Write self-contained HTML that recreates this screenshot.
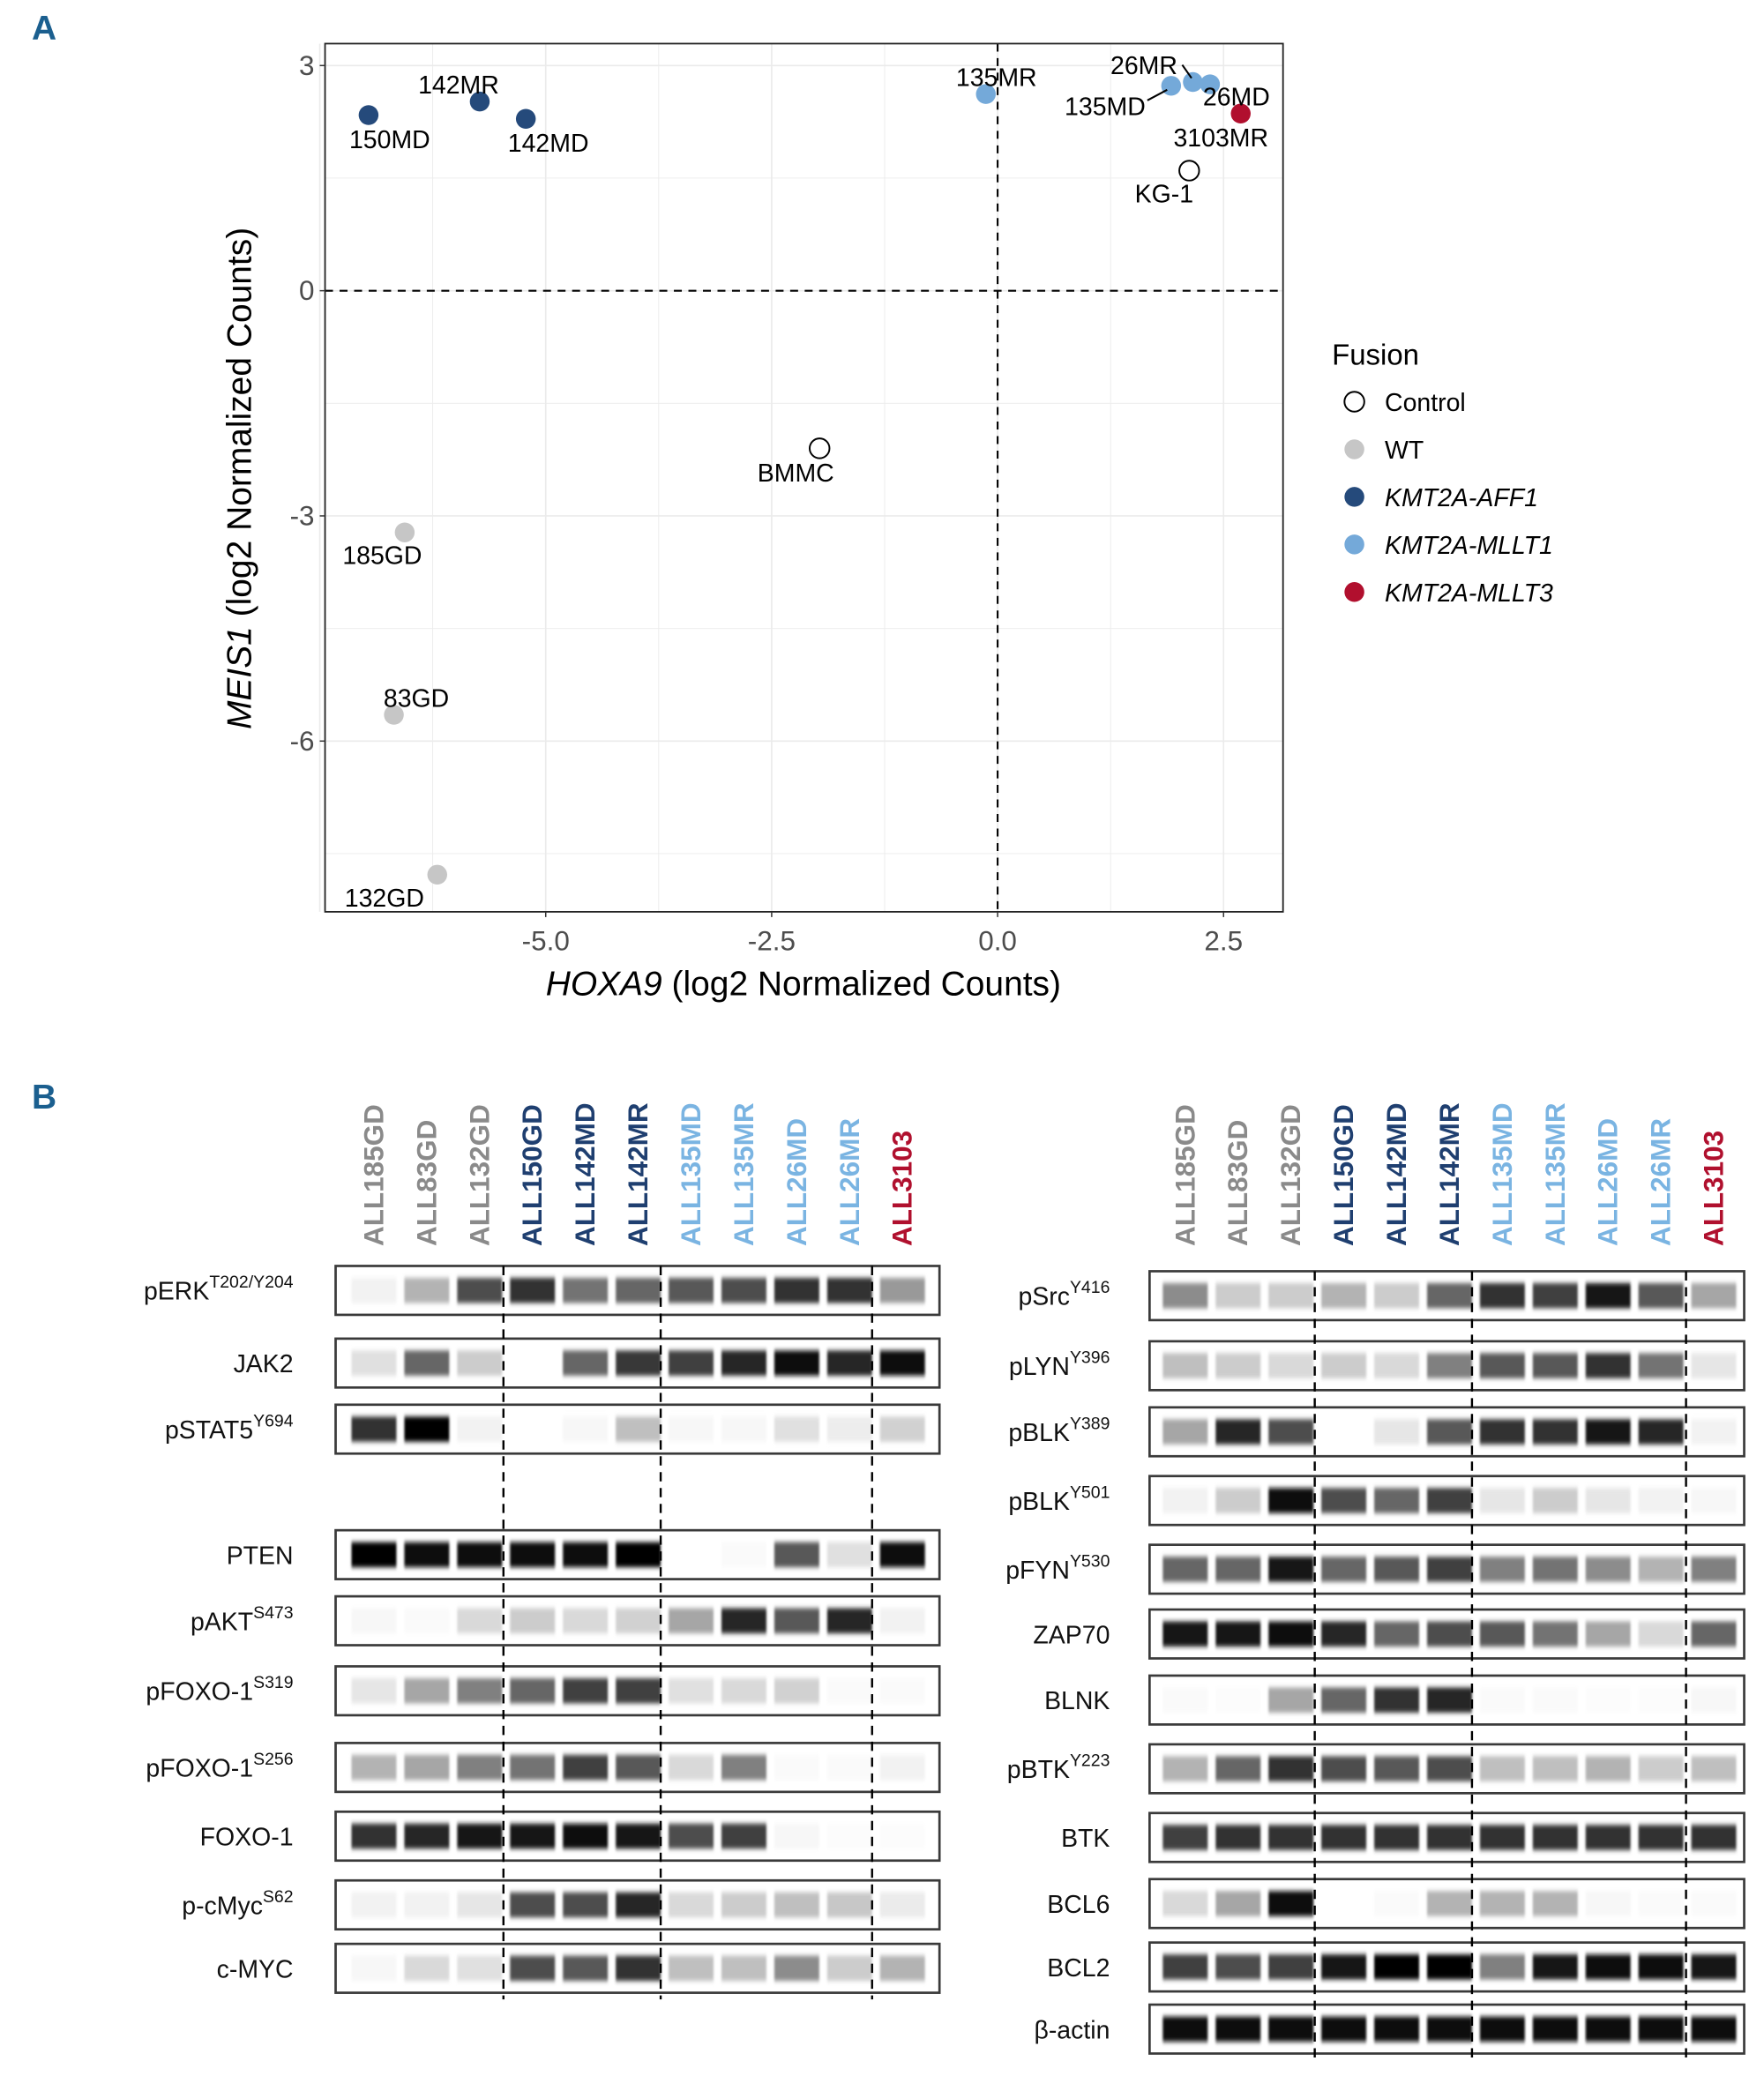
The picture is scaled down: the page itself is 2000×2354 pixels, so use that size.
<!DOCTYPE html>
<html><head><meta charset="utf-8"><style>
html,body{margin:0;padding:0;background:#fff;}
svg{display:block;font-family:"Liberation Sans",sans-serif;}
</style></head><body>
<svg id="fig" width="2000" height="2354" viewBox="0 0 1335 1571" preserveAspectRatio="none" xmlns="http://www.w3.org/2000/svg">
<defs><filter id="blur" x="-20%" y="-50%" width="140%" height="200%"><feGaussianBlur stdDeviation="0.9 1.8"/></filter></defs>
<text x="24" y="30" font-size="26" font-weight="bold" fill="#1b5f8f">A</text>
<text x="24" y="839" font-size="26" font-weight="bold" fill="#1b5f8f">B</text>
<g id="scatter"></g>
<g id="legend"></g>
<g id="blots"></g>
</svg>
<script>
// ---- Scatter data ----
const sampleNames = ["150MD","142MR","142MD","135MR","135MD","26MR","26MD","3103MR","KG-1","BMMC","185GD","83GD","132GD"];
const hoxa9 = [-6.96,-5.73,-5.22,-0.13,1.92,2.16,2.35,2.69,2.12,-1.97,-6.56,-6.68,-6.20];
const meis1 = [2.34,2.52,2.29,2.62,2.73,2.78,2.75,2.36,1.60,-2.10,-3.22,-5.65,-7.78];
const fusion = ["AFF1","AFF1","AFF1","MLLT1","MLLT1","MLLT1","MLLT1","MLLT3","Control","Control","WT","WT","WT"];
const xTicks = [-5.0,-2.5,0.0,2.5];
const yTicks = [3,0,-3,-6];
const legendLabels = ["Control","WT","KMT2A-AFF1","KMT2A-MLLT1","KMT2A-MLLT3"];
const legendKeys = ["Control","WT","AFF1","MLLT1","MLLT3"];

const NS="http://www.w3.org/2000/svg";
function mk(tag, attrs, parent){const e=document.createElementNS(NS,tag);for(const k in attrs)e.setAttribute(k,attrs[k]);if(parent)parent.appendChild(e);return e;}
const colors={Control:"#ffffff",WT:"#c6c6c6",AFF1:"#254a7b",MLLT1:"#74a9d9",MLLT3:"#b10f2e"};
const P={l:246,r:971,t:33,b:690};
const sx=v=>755+v*68.4;
const sy=v=>220-v*56.8;
const sc=document.getElementById('scatter');
mk('rect',{x:P.l,y:P.t,width:P.r-P.l,height:P.b-P.t,fill:'#fff'},sc);
for(let v=-7.5;v<=2.5;v+=1.25){const major=Math.abs((v/2.5)-Math.round(v/2.5))<1e-6;
 const g=mk('line',{x1:sx(v),x2:sx(v),y1:P.t,y2:P.b,stroke:'#ebebeb','stroke-width':major?1.1:0.6},sc);
 }
for(let v=-7.5;v<=4.5;v+=1.5){const major=Math.abs(v/3-Math.round(v/3))<1e-6;
 const y=sy(v);if(y<P.t||y>P.b)continue;
 const g=mk('line',{x1:P.l,x2:P.r,y1:y,y2:y,stroke:'#ebebeb','stroke-width':major?1.1:0.6},sc);
 }
let d=mk('line',{x1:sx(0),x2:sx(0),y1:P.t,y2:P.b,stroke:'#000','stroke-width':1.4,'stroke-dasharray':'6 5'},sc);

d=mk('line',{x1:P.l,x2:P.r,y1:sy(0),y2:sy(0),stroke:'#000','stroke-width':1.4,'stroke-dasharray':'6 5'},sc);

let fr=mk('rect',{x:P.l,y:P.t,width:P.r-P.l,height:P.b-P.t,fill:'none',stroke:'#222','stroke-width':1.2},sc);

xTicks.forEach(v=>{mk('line',{x1:sx(v),x2:sx(v),y1:P.b,y2:P.b+4,stroke:'#333'},sc);
 const t=mk('text',{x:sx(v),y:P.b+29,'text-anchor':'middle','font-size':21,fill:'#4d4d4d'},sc);t.textContent=v.toFixed(1);
 });
yTicks.forEach(v=>{mk('line',{x1:P.l-4,x2:P.l,y1:sy(v),y2:sy(v),stroke:'#333'},sc);
 const t=mk('text',{x:P.l-8,y:sy(v)+7,'text-anchor':'end','font-size':21,fill:'#4d4d4d'},sc);t.textContent=String(v);
 });
let xt=mk('text',{x:608,y:753,'text-anchor':'middle','font-size':26,fill:'#000'},sc);
xt.innerHTML='<tspan font-style="italic">HOXA9</tspan> (log2 Normalized Counts)';

let yt=mk('text',{x:0,y:0,'text-anchor':'middle','font-size':26,fill:'#000',transform:'translate(190,362) rotate(-90)'},sc);
yt.innerHTML='<tspan font-style="italic">MEIS1</tspan>  (log2 Normalized Counts)';

const lblDX=[16,-16,17,8,-50,-37,20,-15,-19,-18,-17,17,-40];
const lblDY=[19,-12,19,-12,16,-12,10,19,18,19,18,-12,18];
hoxa9.forEach((hx,i)=>{
 const cx=sx(hx),cy=sy(meis1[i]);
 const c=mk('circle',{cx:cx,cy:cy,r:7.5,fill:colors[fusion[i]],stroke:fusion[i]==='Control'?'#000':'none','stroke-width':1.3},sc);
 
 
});
hoxa9.forEach((hx,i)=>{
 const cx=sx(hx),cy=sy(meis1[i]);
 const t=mk('text',{x:cx+lblDX[i],y:cy+lblDY[i]+6,'text-anchor':'middle','font-size':19,fill:'#000'},sc);
 t.textContent=sampleNames[i];
 
 
});
mk('line',{x1:sx(1.92)-3,y1:sy(2.73)+3,x2:sx(1.92)-18,y2:sy(2.73)+11,stroke:'#000','stroke-width':1.4},sc);
mk('line',{x1:sx(2.16)-1,y1:sy(2.78)-3,x2:sx(2.16)-8,y2:sy(2.78)-13,stroke:'#000','stroke-width':1.4},sc);
const lg=document.getElementById('legend');
let lt=mk('text',{x:1008,y:276,'font-size':22,fill:'#000'},lg);lt.textContent='Fusion';

legendLabels.forEach((lab,i)=>{
 const y=304+i*36;
 const g=mk('g',{},lg);
 
 
 mk('circle',{cx:1025,cy:y,r:7.5,fill:colors[legendKeys[i]],stroke:legendKeys[i]==='Control'?'#000':'none','stroke-width':1.3},g);
 const t=mk('text',{x:1048,y:y+7,'font-size':19,fill:'#000','font-style':i>=2?'italic':'normal'},g);t.textContent=lab;
});

// ---- Blot data ----
const laneLabels=["ALL185GD","ALL83GD","ALL132GD","ALL150GD","ALL142MD","ALL142MR","ALL135MD","ALL135MR","ALL26MD","ALL26MR","ALL3103"];
const laneGroup=["WT","WT","WT","AFF1","AFF1","AFF1","MLLT1","MLLT1","MLLT1","MLLT1","MLLT3"];
const leftRows=["pERK|T202/Y204","JAK2|","pSTAT5|Y694","PTEN|","pAKT|S473","pFOXO-1|S319","pFOXO-1|S256","FOXO-1|","p-cMyc|S62","c-MYC|"];
const leftVals=[
[0.05,0.3,0.7,0.8,0.55,0.6,0.65,0.7,0.8,0.8,0.4],
[0.12,0.6,0.2,0,0.6,0.78,0.75,0.85,0.95,0.85,0.95],
[0.8,1,0.05,0,0.03,0.25,0.03,0.03,0.12,0.07,0.18],
[1,0.95,0.95,0.95,0.95,1,0,0.02,0.65,0.12,0.95],
[0.03,0.02,0.15,0.2,0.15,0.18,0.35,0.85,0.65,0.85,0.05],
[0.1,0.35,0.5,0.6,0.75,0.75,0.12,0.15,0.18,0.02,0.02],
[0.3,0.35,0.5,0.55,0.75,0.65,0.15,0.5,0.02,0.02,0.05],
[0.8,0.85,0.9,0.9,0.95,0.9,0.7,0.75,0.03,0.01,0.01],
[0.05,0.05,0.1,0.7,0.7,0.85,0.15,0.2,0.25,0.22,0.08],
[0.03,0.15,0.12,0.7,0.65,0.8,0.25,0.25,0.45,0.2,0.3]];
const rightRows=["pSrc|Y416","pLYN|Y396","pBLK|Y389","pBLK|Y501","pFYN|Y530","ZAP70|","BLNK|","pBTK|Y223","BTK|","BCL6|","BCL2|","β-actin|"];
const rightVals=[
[0.45,0.2,0.2,0.3,0.2,0.6,0.8,0.75,0.9,0.65,0.35],
[0.25,0.2,0.15,0.2,0.15,0.5,0.65,0.65,0.8,0.55,0.1],
[0.35,0.85,0.7,0,0.1,0.65,0.8,0.8,0.9,0.85,0.05],
[0.05,0.2,0.95,0.7,0.6,0.75,0.1,0.2,0.1,0.05,0.03],
[0.6,0.6,0.9,0.6,0.65,0.75,0.5,0.55,0.45,0.3,0.5],
[0.9,0.9,0.95,0.85,0.6,0.7,0.65,0.55,0.35,0.15,0.6],
[0.02,0.01,0.35,0.6,0.8,0.85,0.02,0.02,0.01,0.01,0.03],
[0.3,0.6,0.8,0.7,0.65,0.7,0.25,0.25,0.3,0.2,0.25],
[0.75,0.8,0.8,0.8,0.8,0.8,0.8,0.8,0.8,0.8,0.8],
[0.15,0.35,0.95,0,0.02,0.3,0.3,0.3,0.03,0.02,0.02],
[0.75,0.7,0.75,0.9,1,1,0.5,0.9,0.95,0.95,0.9],
[0.95,0.95,0.95,0.95,0.95,0.95,0.95,0.95,0.95,0.95,0.95]];
const laneColors={WT:"#8a8a8a",AFF1:"#1f3f70",MLLT1:"#7ab4e2",MLLT3:"#b0102e"};
const leftTops=[958,1013,1063,1158,1208,1261,1319,1371,1423,1471];
const rightTops=[962,1015,1065,1117,1169,1218,1268,1320,1372,1422,1470,1517];
const bl=document.getElementById('blots');
function panel(x0,x1,lane0,tops,rows,vals,dashX,labelX,name){
 const g=mk('g',{},bl);
 
 
 laneLabels.forEach((lab,i)=>{
  const cx=lane0+i*40;
  const t=mk('text',{x:0,y:0,'font-size':21,'font-weight':'bold',fill:laneColors[laneGroup[i]],transform:'translate('+(cx+7)+',943) rotate(-90)'},g);
  t.textContent=lab;
  
  
 });
 rows.forEach((r,ri)=>{
  const top=tops[ri],h=37,mid=top+h/2;
  const parts=r.split('|');
  const t=mk('text',{x:labelX,y:mid+7,'text-anchor':'end','font-size':19,fill:'#111'},g);
  t.innerHTML=parts[1]?parts[0]+'<tspan font-size="13" dy="-9">'+parts[1]+'</tspan>':parts[0];
  
  
  vals[ri].forEach((v,li)=>{
   const cx=lane0+li*40;
   const c=Math.round(255*(1-v));
   const b=mk('rect',{x:cx-17,y:mid-9.5,width:34,height:19,fill:'rgb('+c+','+c+','+c+')',filter:'url(#blur)'},g);
   
   
  });
  const bx=mk('rect',{x:x0,y:top,width:x1-x0,height:h,fill:'none',stroke:'#3a3a3a','stroke-width':1.8},g);
  
  
 });
 dashX.forEach(x=>{
  const l=mk('line',{x1:x,x2:x,y1:tops[0],y2:tops[tops.length-1]+42,stroke:'#000','stroke-width':1.6,'stroke-dasharray':'7 5'},g);
  
  
 });
}
panel(254,711,283,leftTops,leftRows,leftVals,[381,500,660],222,'left-blot-panel');
panel(870,1320,897,rightTops,rightRows,rightVals,[995,1114,1276],840,'right-blot-panel');
</script>
</body></html>
